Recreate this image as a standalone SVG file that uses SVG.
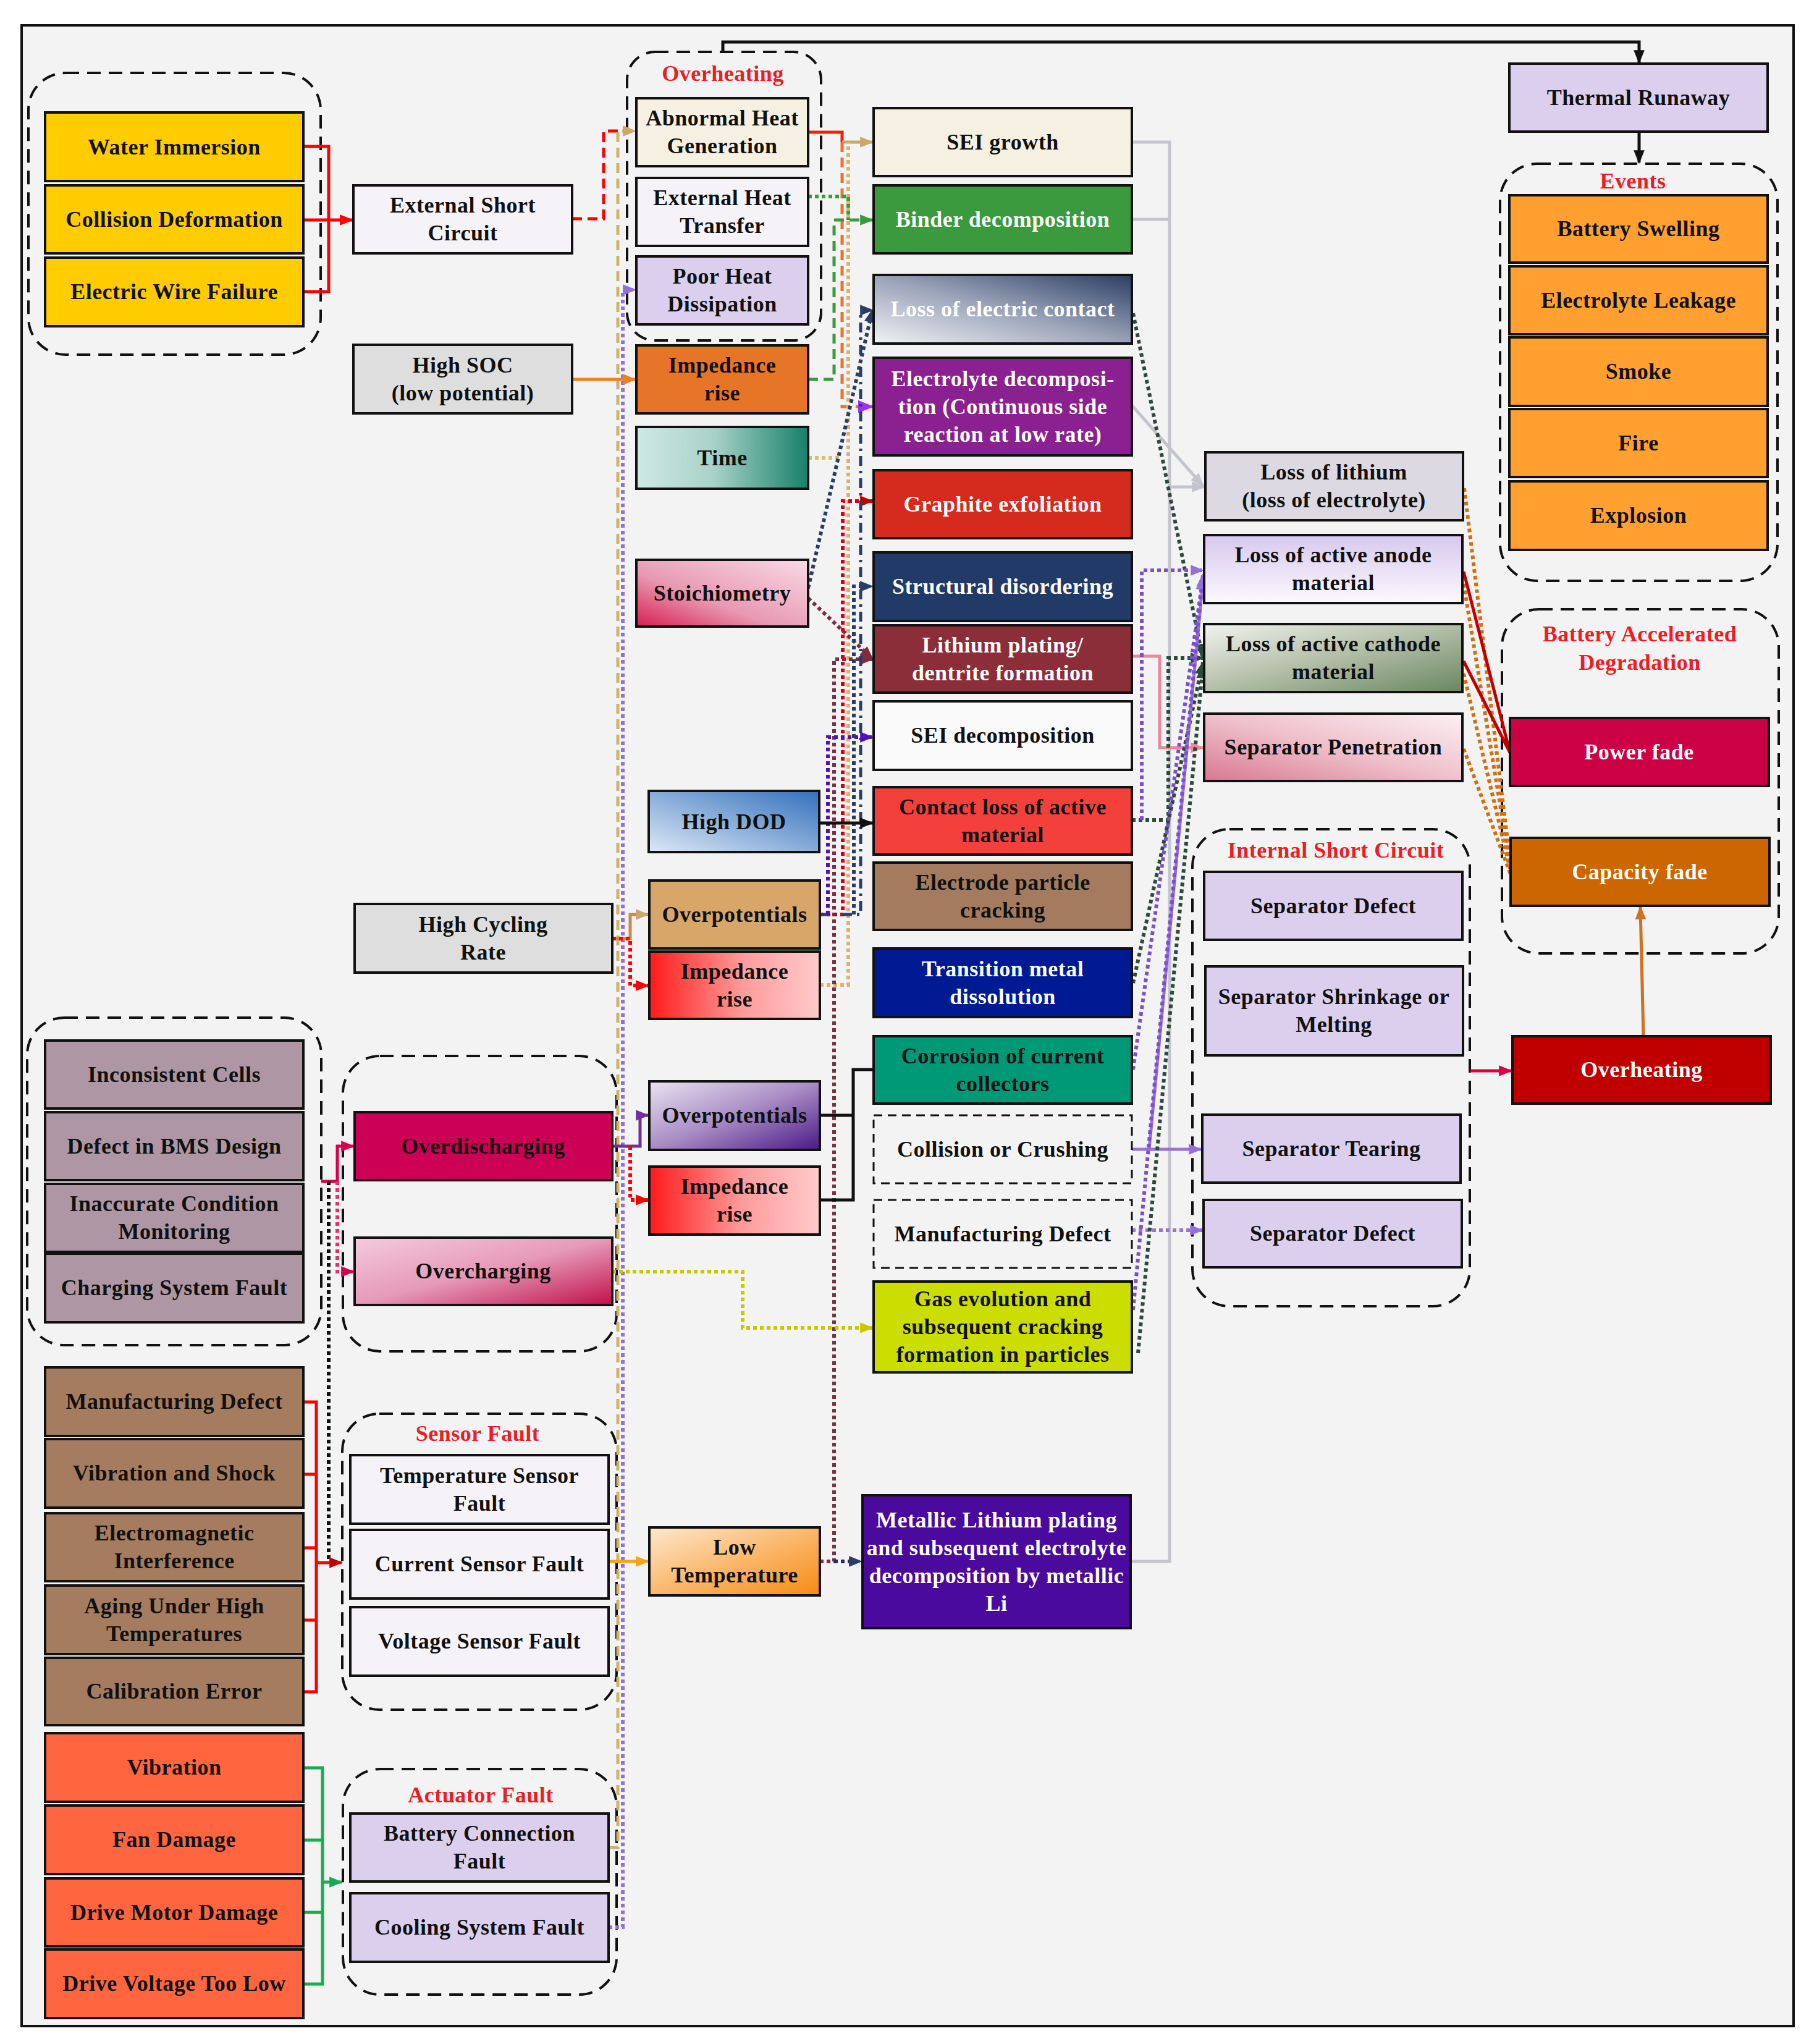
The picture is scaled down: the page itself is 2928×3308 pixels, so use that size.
<svg xmlns="http://www.w3.org/2000/svg" width="2928" height="3308" viewBox="0 0 2928 3308">
<style>
.n{stroke:#111;stroke-width:4}
.nd{stroke:#111;stroke-width:3;stroke-dasharray:14 9;fill:none}
.grp{fill:none;stroke:#111;stroke-width:4;stroke-dasharray:22 13}
text{font-family:"Liberation Serif","Times New Roman",serif;font-weight:bold;font-size:36px;text-anchor:middle;dominant-baseline:central;fill:#111;letter-spacing:0.5px}
.w{fill:#fff}
.t{fill:#ee1c25}
.c{fill:none;stroke-width:5}
.dot{stroke-dasharray:6 5;stroke-width:6}
.dash{stroke-dasharray:16 9}
.dd{stroke-dasharray:16 8 4 8}
</style>
<defs>
<marker id="m-red" viewBox="0 0 10 10" refX="9" refY="5" markerWidth="22" markerHeight="22" markerUnits="userSpaceOnUse" orient="auto"><path d="M0,1 L10,5 L0,9 z" fill="#f00"/></marker>
<marker id="m-tan" viewBox="0 0 10 10" refX="9" refY="5" markerWidth="22" markerHeight="22" markerUnits="userSpaceOnUse" orient="auto"><path d="M0,1 L10,5 L0,9 z" fill="#c9a86a"/></marker>
<marker id="m-green" viewBox="0 0 10 10" refX="9" refY="5" markerWidth="22" markerHeight="22" markerUnits="userSpaceOnUse" orient="auto"><path d="M0,1 L10,5 L0,9 z" fill="#3a9a3d"/></marker>
<marker id="m-violet" viewBox="0 0 10 10" refX="9" refY="5" markerWidth="22" markerHeight="22" markerUnits="userSpaceOnUse" orient="auto"><path d="M0,1 L10,5 L0,9 z" fill="#9370db"/></marker>
<marker id="m-bviolet" viewBox="0 0 10 10" refX="9" refY="5" markerWidth="26" markerHeight="26" markerUnits="userSpaceOnUse" orient="auto"><path d="M0,1 L10,5 L0,9 z" fill="#9b30ff"/></marker>
<marker id="m-navy" viewBox="0 0 10 10" refX="9" refY="5" markerWidth="22" markerHeight="22" markerUnits="userSpaceOnUse" orient="auto"><path d="M0,1 L10,5 L0,9 z" fill="#2a3d66"/></marker>
<marker id="m-maroon" viewBox="0 0 10 10" refX="9" refY="5" markerWidth="22" markerHeight="22" markerUnits="userSpaceOnUse" orient="auto"><path d="M0,1 L10,5 L0,9 z" fill="#7a3040"/></marker>
<marker id="m-dred" viewBox="0 0 10 10" refX="9" refY="5" markerWidth="22" markerHeight="22" markerUnits="userSpaceOnUse" orient="auto"><path d="M0,1 L10,5 L0,9 z" fill="#c00000"/></marker>
<marker id="m-black" viewBox="0 0 10 10" refX="9" refY="5" markerWidth="22" markerHeight="22" markerUnits="userSpaceOnUse" orient="auto"><path d="M0,1 L10,5 L0,9 z" fill="#111"/></marker>
<marker id="m-orange" viewBox="0 0 10 10" refX="9" refY="5" markerWidth="22" markerHeight="22" markerUnits="userSpaceOnUse" orient="auto"><path d="M0,1 L10,5 L0,9 z" fill="#f0801e"/></marker>
<marker id="m-lorange" viewBox="0 0 10 10" refX="9" refY="5" markerWidth="22" markerHeight="22" markerUnits="userSpaceOnUse" orient="auto"><path d="M0,1 L10,5 L0,9 z" fill="#f7a21b"/></marker>
<marker id="m-corange" viewBox="0 0 10 10" refX="9" refY="5" markerWidth="22" markerHeight="22" markerUnits="userSpaceOnUse" orient="auto"><path d="M0,1 L10,5 L0,9 z" fill="#d07020"/></marker>
<marker id="m-gray" viewBox="0 0 10 10" refX="9" refY="5" markerWidth="22" markerHeight="22" markerUnits="userSpaceOnUse" orient="auto"><path d="M0,1 L10,5 L0,9 z" fill="#c4c4ce"/></marker>
<marker id="m-pink" viewBox="0 0 10 10" refX="9" refY="5" markerWidth="22" markerHeight="22" markerUnits="userSpaceOnUse" orient="auto"><path d="M0,1 L10,5 L0,9 z" fill="#e88898"/></marker>
<marker id="m-crimson" viewBox="0 0 10 10" refX="9" refY="5" markerWidth="22" markerHeight="22" markerUnits="userSpaceOnUse" orient="auto"><path d="M0,1 L10,5 L0,9 z" fill="#d8004a"/></marker>
<marker id="m-bgreen" viewBox="0 0 10 10" refX="9" refY="5" markerWidth="22" markerHeight="22" markerUnits="userSpaceOnUse" orient="auto"><path d="M0,1 L10,5 L0,9 z" fill="#1aaa55"/></marker>
<marker id="m-yellow" viewBox="0 0 10 10" refX="9" refY="5" markerWidth="22" markerHeight="22" markerUnits="userSpaceOnUse" orient="auto"><path d="M0,1 L10,5 L0,9 z" fill="#c8c800"/></marker>
<marker id="m-dgreen" viewBox="0 0 10 10" refX="9" refY="5" markerWidth="22" markerHeight="22" markerUnits="userSpaceOnUse" orient="auto"><path d="M0,1 L10,5 L0,9 z" fill="#2d4a3a"/></marker>
<marker id="m-purple" viewBox="0 0 10 10" refX="9" refY="5" markerWidth="22" markerHeight="22" markerUnits="userSpaceOnUse" orient="auto"><path d="M0,1 L10,5 L0,9 z" fill="#7030a0"/></marker>
<marker id="m-indigo" viewBox="0 0 10 10" refX="9" refY="5" markerWidth="22" markerHeight="22" markerUnits="userSpaceOnUse" orient="auto"><path d="M0,1 L10,5 L0,9 z" fill="#5010c0"/></marker>
<linearGradient id="g-lec" x1="0" y1="1" x2="1" y2="0"><stop offset="0" stop-color="#f0f2f6"/><stop offset="0.5" stop-color="#9aa3b8"/><stop offset="1" stop-color="#2c3d63"/></linearGradient>
<linearGradient id="g-time" x1="0" y1="0" x2="1" y2="0"><stop offset="0" stop-color="#cfe9e3"/><stop offset="0.45" stop-color="#a8d2c8"/><stop offset="1" stop-color="#17806a"/></linearGradient>
<linearGradient id="g-stoich" x1="0" y1="1" x2="1" y2="0"><stop offset="0" stop-color="#d61e50"/><stop offset="0.4" stop-color="#e898b2"/><stop offset="1" stop-color="#f9dae6"/></linearGradient>
<linearGradient id="g-dod" x1="0" y1="1" x2="1" y2="0"><stop offset="0" stop-color="#dce8f6"/><stop offset="1" stop-color="#3470bc"/></linearGradient>
<linearGradient id="g-imp" x1="0" y1="0" x2="1" y2="0"><stop offset="0" stop-color="#ff1a1a"/><stop offset="0.55" stop-color="#ff9c9c"/><stop offset="1" stop-color="#ffcaca"/></linearGradient>
<linearGradient id="g-opp" x1="0" y1="0" x2="1" y2="1"><stop offset="0" stop-color="#ebe2f2"/><stop offset="0.5" stop-color="#a88cc4"/><stop offset="1" stop-color="#4a1888"/></linearGradient>
<linearGradient id="g-low" x1="0" y1="0" x2="1" y2="1"><stop offset="0" stop-color="#fde8d0"/><stop offset="0.5" stop-color="#fbb86c"/><stop offset="1" stop-color="#f68a14"/></linearGradient>
<linearGradient id="g-overch" x1="0" y1="0" x2="1" y2="1"><stop offset="0" stop-color="#f5cadd"/><stop offset="0.5" stop-color="#e69ab8"/><stop offset="1" stop-color="#c0104a"/></linearGradient>
<linearGradient id="g-anode" x1="0" y1="0" x2="0" y2="1"><stop offset="0" stop-color="#d8c8ee"/><stop offset="1" stop-color="#fbf9fd"/></linearGradient>
<linearGradient id="g-cathode" x1="0" y1="0" x2="1" y2="1"><stop offset="0" stop-color="#f2f3ee"/><stop offset="0.5" stop-color="#b2bea8"/><stop offset="1" stop-color="#6a8660"/></linearGradient>
<linearGradient id="g-seppen" x1="0" y1="1" x2="1" y2="0"><stop offset="0" stop-color="#d87890"/><stop offset="0.5" stop-color="#efc0cc"/><stop offset="1" stop-color="#fcf0f4"/></linearGradient>
</defs>
<rect x="0" y="0" width="2928" height="3308" fill="#fff"/>
<rect x="35" y="41" width="2868" height="3238" fill="#f3f3f3" stroke="#111" stroke-width="4"/>

<g id="groups">
<rect class="grp" x="46" y="118" width="473" height="456" rx="60"/>
<rect class="grp" x="1015" y="84" width="314" height="467" rx="45"/>
<text class="t" x="1170" y="119">Overheating</text>
<rect class="grp" x="44" y="1647" width="476" height="530" rx="60"/>
<rect class="grp" x="555" y="1709" width="443" height="478" rx="60"/>
<rect class="grp" x="554" y="2288" width="444" height="479" rx="60"/>
<text class="t" x="773" y="2320">Sensor Fault</text>
<rect class="grp" x="555" y="2863" width="443" height="365" rx="60"/>
<text class="t" x="778" y="2905">Actuator Fault</text>
<rect class="grp" x="2428" y="265" width="449" height="675" rx="60"/>
<text class="t" x="2643" y="293">Events</text>
<rect class="grp" x="2431" y="986" width="448" height="557" rx="60"/>
<text class="t" x="2654" y="1026">Battery Accelerated</text>
<text class="t" x="2654" y="1072">Degradation</text>
<rect class="grp" x="1930" y="1342" width="449" height="772" rx="60"/>
<text class="t" x="2162" y="1376">Internal Short Circuit</text>
</g>

<g id="connectors">
<path class="c" stroke="#f00" d="M491,237 H532 V472 H491"/>
<path class="c" stroke="#f00" d="M491,356 H570" marker-end="url(#m-red)"/>
<path class="c dash" stroke="#f00" stroke-width="6" d="M926,354 H977 V212 H1000"/>
<path class="c dash" stroke="#cdb36c" stroke-width="8" d="M985,2990 H1000 V212 H1028" marker-end="url(#m-tan)"/>
<path class="c dot" stroke="#9370db" d="M985,3119 H1008 V469 H1028" marker-end="url(#m-violet)"/>
<path class="c" stroke="#f0801e" d="M926,614 H1028" marker-end="url(#m-orange)"/>
<path class="c" stroke="#f02010" d="M1308,214 H1363 V230"/>
<path class="c" stroke="#c9a86a" d="M1363,230 H1412" marker-end="url(#m-tan)"/>
<path class="c dash" stroke="#f07030" d="M1363,230 V658 H1412" marker-end="url(#m-bviolet)"/>
<path class="c dot" stroke="#e0b070" d="M1327,1594 H1373 V230"/>
<path class="c dot" stroke="#3a9a3d" d="M1308,318 H1373 V356"/>
<path class="c dash" stroke="#3a9a3d" d="M1308,614 H1350 V356 H1412" marker-end="url(#m-green)"/>
<path class="c dot" stroke="#d4c070" d="M1308,741 H1360"/>
<path class="c dot" stroke="#2a3d66" d="M1308,952 L1412,502" marker-end="url(#m-navy)"/>
<path class="c dot" stroke="#7a3040" d="M1308,968 L1412,1066" marker-end="url(#m-maroon)"/>
<path class="c dot" stroke="#7a3040" d="M1327,2527 H1350 V1067 H1412" marker-end="url(#m-maroon)"/>
<path class="c dot" stroke="#2a2a66" d="M1350,2527 H1394" marker-end="url(#m-navy)"/>
<path class="c dot" stroke="#d40010" d="M1327,1480 H1364 V811 H1412" marker-end="url(#m-dred)"/>
<path class="c dd" stroke="#2a3d66" stroke-width="6" d="M1327,1480 H1393 V502 H1412" marker-end="url(#m-navy)"/>
<path class="c dot" stroke="#2a3d66" d="M1382,1480 V949 H1412" marker-end="url(#m-navy)"/>
<path class="c dot" stroke="#5010c0" d="M1340,1480 V1193 H1412" marker-end="url(#m-indigo)"/>
<path class="c" stroke="#111" d="M1326,1332 H1412" marker-end="url(#m-black)"/>
<path class="c" stroke="#c98a4b" d="M991,1519 H1020 V1480 H1049" marker-end="url(#m-tan)"/>
<path class="c dot" stroke="#f00" d="M991,1519 H1020 V1595 H1049" marker-end="url(#m-red)"/>
<path class="c" stroke="#7030a0" d="M991,1855 H1036 V1805 H1049" marker-end="url(#m-purple)"/>
<path class="c dot" stroke="#f00" d="M1020,1855 V1942 H1049" marker-end="url(#m-red)"/>
<path class="c" stroke="#111" stroke-width="6" d="M1327,1805 H1381 M1327,1942 H1381 V1731 H1414"/>
<path class="c dot" stroke="#c8c800" d="M991,2058 H1202 V2149 H1412" marker-end="url(#m-yellow)"/>
<path class="c" stroke="#d8004a" d="M520,1912 H546 V1855 H572" marker-end="url(#m-crimson)"/>
<path class="c dot" stroke="#e8306a" d="M546,1912 V2058 H572" marker-end="url(#m-crimson)"/>
<path class="c dot" stroke="#111" stroke-width="3" d="M532,1912 V2529"/>
<path class="c" stroke="#f00" d="M491,2269 H512 V2738 H491 M491,2386 H512 M491,2505 H512 M491,2622 H512"/>
<path class="c" stroke="#f00" d="M512,2529 H553" marker-end="url(#m-dred)"/>
<path class="c" stroke="#1aaa55" d="M491,2861 H522 V3211 H491 M491,2978 H522 M491,3095 H522"/>
<path class="c" stroke="#1aaa55" d="M522,3046 H553" marker-end="url(#m-bgreen)"/>
<path class="c" stroke="#f7a21b" d="M985,2527 H1049" marker-end="url(#m-lorange)"/>
<path class="c" stroke="#111" d="M1170,84 V68 H2653 V101" marker-end="url(#m-black)"/>
<path class="c" stroke="#111" d="M2653,213 V263" marker-end="url(#m-black)"/>
<path class="c" stroke="#c4c4ce" d="M1832,230 H1893 V2527 H1830 M1832,355 H1893"/>
<path class="c" stroke="#c4c4ce" d="M1893,788 H1949" marker-end="url(#m-gray)"/>
<path class="c" stroke="#c4c4ce" d="M1832,656 L1947,786" marker-end="url(#m-gray)"/>
<path class="c dot" stroke="#2d4a3a" d="M1834,507 L1946,1062" marker-end="url(#m-dgreen)"/>
<path class="c" stroke="#e88898" d="M1832,1062 H1877 V1210 H1947" marker-end="url(#m-pink)"/>
<path class="c dot" stroke="#2d4a3a" d="M1832,1327 H1891 V1065 H1947" marker-end="url(#m-dgreen)"/>
<path class="c dot" stroke="#7b50d0" d="M1848,1327 V923 H1947" marker-end="url(#m-violet)"/>
<path class="c dot" stroke="#2d4a3a" d="M1834,1591 L1947,1072" marker-end="url(#m-dgreen)"/>
<path class="c dot" stroke="#7b50d0" d="M1834,1731 L1947,935" marker-end="url(#m-violet)"/>
<path class="c" stroke="#9b70d8" stroke-width="4" d="M1860,1860 L1947,940"/>
<path class="c" stroke="#9b70d8" d="M1832,1860 H1944" marker-end="url(#m-violet)"/>
<path class="c dot" stroke="#9b70d8" d="M1832,1991 H1946" marker-end="url(#m-violet)"/>
<path class="c dot" stroke="#7b50d0" d="M1834,2120 L1947,930" marker-end="url(#m-violet)"/>
<path class="c dot" stroke="#2d4a3a" d="M1842,2190 L1947,1078" marker-end="url(#m-dgreen)"/>
<path class="c dot" stroke="#d07010" stroke-width="7" d="M2370,790 L2445,1400"/>
<path class="c dot" stroke="#d07010" stroke-width="7" d="M2369,945 L2445,1405"/>
<path class="c dot" stroke="#d07010" stroke-width="7" d="M2369,1090 L2445,1410"/>
<path class="c dot" stroke="#d07010" stroke-width="7" d="M2369,1212 L2445,1415"/>
<path class="c" stroke="#c00000" d="M2369,925 L2444,1218 M2369,1070 L2444,1218"/>
<path class="c" stroke="#e0003c" d="M2380,1733 H2446" marker-end="url(#m-crimson)"/>
<path class="c" stroke="#d07020" d="M2660,1677 L2655,1468" marker-end="url(#m-corange)"/>
</g>

<g id="n-water"><rect class="n" x="73" y="182" width="418" height="111" fill="#ffcc00"/><text x="282" y="238">Water Immersion</text></g>
<g id="n-collision"><rect class="n" x="73" y="300" width="418" height="110" fill="#ffcc00"/><text x="282" y="355">Collision Deformation</text></g>
<g id="n-wire"><rect class="n" x="73" y="417" width="418" height="111" fill="#ffcc00"/><text x="282" y="472">Electric Wire Failure</text></g>
<g id="n-esc"><rect class="n" x="572" y="300" width="354" height="110" fill="#f6f3f8"/><text x="749" y="332">External Short</text><text x="749" y="377">Circuit</text></g>
<g id="n-highsoc"><rect class="n" x="572" y="558" width="354" height="111" fill="#dedede"/><text x="749" y="591">High SOC</text><text x="749" y="636">(low potential)</text></g>
<g id="n-abnormal"><rect class="n" x="1030" y="159" width="278" height="110" fill="#f6f0e2"/><text x="1169" y="191">Abnormal Heat</text><text x="1169" y="236">Generation</text></g>
<g id="n-exheat"><rect class="n" x="1030" y="288" width="278" height="110" fill="#f6f3f8"/><text x="1169" y="320">External Heat</text><text x="1169" y="365">Transfer</text></g>
<g id="n-poorheat"><rect class="n" x="1030" y="415" width="278" height="110" fill="#dccfee"/><text x="1169" y="447">Poor Heat</text><text x="1169" y="492">Dissipation</text></g>
<g id="n-imp1"><rect class="n" x="1030" y="559" width="278" height="110" fill="#e67528"/><text x="1169" y="591">Impedance</text><text x="1169" y="636">rise</text></g>
<g id="n-time"><rect class="n" x="1030" y="691" width="278" height="100" fill="url(#g-time)"/><text x="1169" y="741">Time</text></g>
<g id="n-stoich"><rect class="n" x="1030" y="906" width="278" height="108" fill="url(#g-stoich)"/><text x="1169" y="960">Stoichiometry</text></g>
<g id="n-sei"><rect class="n" x="1414" y="175" width="418" height="110" fill="#f6f0e2"/><text x="1623" y="230">SEI growth</text></g>
<g id="n-binder"><rect class="n" x="1414" y="300" width="418" height="110" fill="#3a9a3d"/><text class="w" x="1623" y="355">Binder decomposition</text></g>
<g id="n-lec"><rect class="n" x="1414" y="445" width="418" height="111" fill="url(#g-lec)"/><text class="w" x="1623" y="500">Loss of electric contact</text></g>
<g id="n-electrolyte"><rect class="n" x="1414" y="579" width="418" height="158" fill="#8b2190"/><text class="w" x="1623" y="613">Electrolyte decomposi-</text><text class="w" x="1623" y="658">tion (Continuous side</text><text class="w" x="1623" y="703">reaction at low rate)</text></g>
<g id="n-graphite"><rect class="n" x="1414" y="761" width="418" height="110" fill="#d42b1e"/><text class="w" x="1623" y="816">Graphite exfoliation</text></g>
<g id="n-struct"><rect class="n" x="1414" y="894" width="418" height="111" fill="#223a68"/><text class="w" x="1623" y="949">Structural disordering</text></g>
<g id="n-liplating"><rect class="n" x="1414" y="1012" width="418" height="109" fill="#8b2e3a"/><text class="w" x="1623" y="1044">Lithium plating/</text><text class="w" x="1623" y="1089">dentrite formation</text></g>
<g id="n-seidec"><rect class="n" x="1414" y="1135" width="418" height="111" fill="#fafafa"/><text x="1623" y="1190">SEI decomposition</text></g>
<g id="n-contactloss"><rect class="n" x="1414" y="1274" width="418" height="109" fill="#f4403a"/><text x="1623" y="1306">Contact loss of active</text><text x="1623" y="1351">material</text></g>
<g id="n-crack"><rect class="n" x="1414" y="1396" width="418" height="109" fill="#a57b5f"/><text x="1623" y="1428">Electrode particle</text><text x="1623" y="1473">cracking</text></g>
<g id="n-tmd"><rect class="n" x="1414" y="1535" width="418" height="111" fill="#001a94"/><text class="w" x="1623" y="1568">Transition metal</text><text class="w" x="1623" y="1613">dissolution</text></g>
<g id="n-corrosion"><rect class="n" x="1414" y="1677" width="418" height="109" fill="#009977"/><text x="1623" y="1709">Corrosion of current</text><text x="1623" y="1754">collectors</text></g>
<g id="n-collision2"><rect class="nd" x="1414" y="1805" width="418" height="110"/><text x="1623" y="1860">Collision or Crushing</text></g>
<g id="n-mfg2"><rect class="nd" x="1414" y="1942" width="418" height="110"/><text x="1623" y="1997">Manufacturing Defect</text></g>
<g id="n-gas"><rect class="n" x="1414" y="2074" width="418" height="147" fill="#ccdd00"/><text x="1623" y="2102">Gas evolution and</text><text x="1623" y="2147">subsequent cracking</text><text x="1623" y="2192">formation in particles</text></g>
<g id="n-metli"><rect class="n" x="1396" y="2420" width="434" height="215" fill="#4b0a9e"/><text class="w" x="1613" y="2460">Metallic Lithium plating</text><text class="w" x="1613" y="2505">and subsequent electrolyte</text><text class="w" x="1613" y="2550">decomposition by metallic</text><text class="w" x="1613" y="2595">Li</text></g>
<g id="n-highdod"><rect class="n" x="1050" y="1280" width="276" height="99" fill="url(#g-dod)"/><text x="1188" y="1330">High DOD</text></g>
<g id="n-overpot1"><rect class="n" x="1051" y="1425" width="276" height="110" fill="#d9a66a"/><text x="1189" y="1480">Overpotentials</text></g>
<g id="n-imp2"><rect class="n" x="1051" y="1540" width="276" height="109" fill="url(#g-imp)"/><text x="1189" y="1572">Impedance</text><text x="1189" y="1617">rise</text></g>
<g id="n-overpot2"><rect class="n" x="1051" y="1750" width="276" height="111" fill="url(#g-opp)"/><text x="1189" y="1805">Overpotentials</text></g>
<g id="n-imp3"><rect class="n" x="1051" y="1888" width="276" height="110" fill="url(#g-imp)"/><text x="1189" y="1920">Impedance</text><text x="1189" y="1965">rise</text></g>
<g id="n-lowtemp"><rect class="n" x="1051" y="2472" width="276" height="110" fill="url(#g-low)"/><text x="1189" y="2504">Low</text><text x="1189" y="2549">Temperature</text></g>
<g id="n-hcr"><rect class="n" x="574" y="1463" width="417" height="111" fill="#dedede"/><text x="782" y="1496">High Cycling</text><text x="782" y="1541">Rate</text></g>
<g id="n-overdis"><rect class="n" x="574" y="1800" width="417" height="110" fill="#cc0055"/><text x="782" y="1855">Overdischarging</text></g>
<g id="n-overch"><rect class="n" x="574" y="2003" width="417" height="109" fill="url(#g-overch)"/><text x="782" y="2057">Overcharging</text></g>
<g id="n-incons"><rect class="n" x="73" y="1684" width="418" height="110" fill="#ae96a4"/><text x="282" y="1739">Inconsistent Cells</text></g>
<g id="n-bms"><rect class="n" x="73" y="1800" width="418" height="110" fill="#ae96a4"/><text x="282" y="1855">Defect in BMS Design</text></g>
<g id="n-inacc"><rect class="n" x="73" y="1916" width="418" height="110" fill="#ae96a4"/><text x="282" y="1948">Inaccurate Condition</text><text x="282" y="1993">Monitoring</text></g>
<g id="n-chg"><rect class="n" x="73" y="2029" width="418" height="111" fill="#ae96a4"/><text x="282" y="2084">Charging System Fault</text></g>
<g id="n-mfg"><rect class="n" x="73" y="2213" width="418" height="111" fill="#a57c60"/><text x="282" y="2268">Manufacturing Defect</text></g>
<g id="n-vibshock"><rect class="n" x="73" y="2329" width="418" height="111" fill="#a57c60"/><text x="282" y="2384">Vibration and Shock</text></g>
<g id="n-emi"><rect class="n" x="73" y="2449" width="418" height="110" fill="#a57c60"/><text x="282" y="2481">Electromagnetic</text><text x="282" y="2526">Interference</text></g>
<g id="n-aging"><rect class="n" x="73" y="2566" width="418" height="111" fill="#a57c60"/><text x="282" y="2599">Aging Under High</text><text x="282" y="2644">Temperatures</text></g>
<g id="n-calib"><rect class="n" x="73" y="2683" width="418" height="109" fill="#a57c60"/><text x="282" y="2737">Calibration Error</text></g>
<g id="n-vib"><rect class="n" x="73" y="2805" width="418" height="111" fill="#ff6640"/><text x="282" y="2860">Vibration</text></g>
<g id="n-fan"><rect class="n" x="73" y="2922" width="418" height="111" fill="#ff6640"/><text x="282" y="2977">Fan Damage</text></g>
<g id="n-motor"><rect class="n" x="73" y="3040" width="418" height="110" fill="#ff6640"/><text x="282" y="3095">Drive Motor Damage</text></g>
<g id="n-dvlow"><rect class="n" x="73" y="3155" width="418" height="111" fill="#ff6640"/><text x="282" y="3210">Drive Voltage Too Low</text></g>
<g id="n-tempsens"><rect class="n" x="567" y="2355" width="418" height="111" fill="#f6f3f8"/><text x="776" y="2388">Temperature Sensor</text><text x="776" y="2433">Fault</text></g>
<g id="n-cursens"><rect class="n" x="567" y="2476" width="418" height="111" fill="#f6f3f8"/><text x="776" y="2531">Current Sensor Fault</text></g>
<g id="n-voltsens"><rect class="n" x="567" y="2601" width="418" height="111" fill="#f6f3f8"/><text x="776" y="2656">Voltage Sensor Fault</text></g>
<g id="n-batconn"><rect class="n" x="567" y="2935" width="418" height="110" fill="#dccfee"/><text x="776" y="2967">Battery Connection</text><text x="776" y="3012">Fault</text></g>
<g id="n-cooling"><rect class="n" x="567" y="3064" width="418" height="111" fill="#dccfee"/><text x="776" y="3119">Cooling System Fault</text></g>
<g id="n-lossli"><rect class="n" x="1951" y="732" width="417" height="110" fill="#dcd9e2"/><text x="2159" y="764">Loss of lithium</text><text x="2159" y="809">(loss of electrolyte)</text></g>
<g id="n-anode"><rect class="n" x="1949" y="866" width="418" height="110" fill="url(#g-anode)"/><text x="2158" y="898">Loss of active anode</text><text x="2158" y="943">material</text></g>
<g id="n-cathode"><rect class="n" x="1949" y="1010" width="418" height="110" fill="url(#g-cathode)"/><text x="2158" y="1042">Loss of active cathode</text><text x="2158" y="1087">material</text></g>
<g id="n-seppen"><rect class="n" x="1949" y="1155" width="418" height="109" fill="url(#g-seppen)"/><text x="2158" y="1209">Separator Penetration</text></g>
<g id="n-sepdef1"><rect class="n" x="1949" y="1411" width="418" height="110" fill="#dccfee"/><text x="2158" y="1466">Separator Defect</text></g>
<g id="n-sepshrink"><rect class="n" x="1951" y="1564" width="417" height="144" fill="#dccfee"/><text x="2159" y="1613">Separator Shrinkage or</text><text x="2159" y="1658">Melting</text></g>
<g id="n-septear"><rect class="n" x="1946" y="1804" width="418" height="110" fill="#dccfee"/><text x="2155" y="1859">Separator Tearing</text></g>
<g id="n-sepdef2"><rect class="n" x="1948" y="1942" width="418" height="109" fill="#dccfee"/><text x="2157" y="1996">Separator Defect</text></g>
<g id="n-thermal"><rect class="n" x="2443" y="103" width="418" height="110" fill="#dccfee"/><text x="2652" y="158">Thermal Runaway</text></g>
<g id="n-swell"><rect class="n" x="2443" y="316" width="418" height="109" fill="#ffa030"/><text x="2652" y="370">Battery Swelling</text></g>
<g id="n-leak"><rect class="n" x="2443" y="431" width="418" height="110" fill="#ffa030"/><text x="2652" y="486">Electrolyte Leakage</text></g>
<g id="n-smoke"><rect class="n" x="2443" y="546" width="418" height="111" fill="#ffa030"/><text x="2652" y="601">Smoke</text></g>
<g id="n-fire"><rect class="n" x="2443" y="662" width="418" height="110" fill="#ffa030"/><text x="2652" y="717">Fire</text></g>
<g id="n-explosion"><rect class="n" x="2443" y="779" width="418" height="111" fill="#ffa030"/><text x="2652" y="834">Explosion</text></g>
<g id="n-power"><rect class="n" x="2444" y="1162" width="419" height="110" fill="#cc0044"/><text class="w" x="2653" y="1217">Power fade</text></g>
<g id="n-capacity"><rect class="n" x="2445" y="1356" width="419" height="110" fill="#cc6600"/><text class="w" x="2654" y="1411">Capacity fade</text></g>
<g id="n-overheat2"><rect class="n" x="2448" y="1677" width="418" height="109" fill="#c00000"/><text class="w" x="2657" y="1731">Overheating</text></g>
</svg>
